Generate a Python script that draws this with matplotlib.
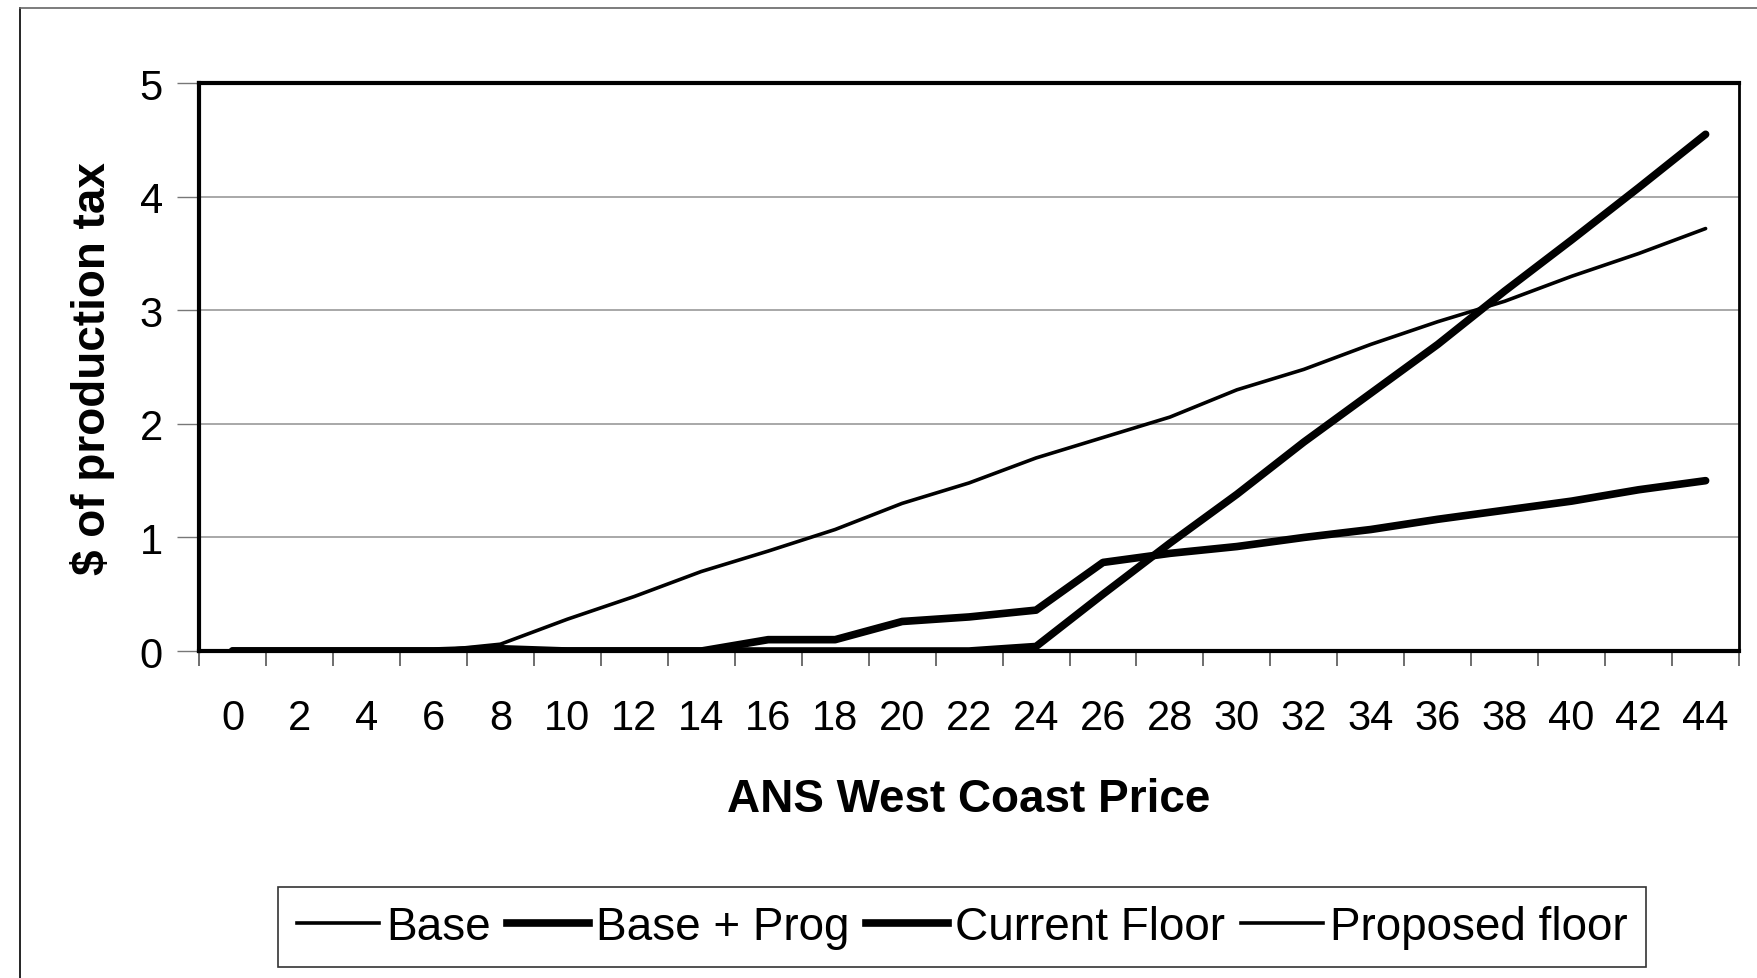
import numpy as np
import matplotlib.pyplot as plt
from matplotlib.lines import Line2D

plt.rcParams['font.family'] = ['Liberation Sans', 'DejaVu Sans']

prices = ['0', '2', '4', '6', '8', '10', '12', '14', '16', '18', '20', '22',
          '24', '26', '28', '30', '32', '34', '36', '38', '40', '42', '44']
base = [0, 0, 0, 0, 0.06, 0.28, 0.48, 0.7, 0.88, 1.07, 1.3, 1.48,
        1.7, 1.88, 2.06, 2.3, 2.48, 2.7, 2.9, 3.08, 3.3, 3.5, 3.72]
base_prog = [0, 0, 0, 0, 0, 0, 0, 0, 0, 0, 0, 0,
             0.04, 0.5, 0.95, 1.38, 1.84, 2.27, 2.7, 3.17, 3.62, 4.08, 4.55]
current_floor = [0, 0, 0, 0, 0.02, 0, 0, 0, 0.1, 0.1, 0.26, 0.3,
                 0.36, 0.78, 0.86, 0.92, 1.0, 1.07, 1.16, 1.24, 1.32, 1.42, 1.5]
proposed_floor = [0, 0, 0, 0, 0, 0, 0, 0, 0, 0, 0, 0,
                  0, 0, 0, 0, 0, 0, 0, 0, 0, 0, 0]

fig = plt.figure(figsize=(17.57, 9.79), dpi=100)
ax = fig.add_axes([0.1133, 0.334, 0.8765, 0.58])

x = np.arange(len(prices))
ax.plot(x, proposed_floor, color='black', lw=2.6, label='Proposed floor', solid_capstyle='round')
ax.plot(x, base, color='black', lw=2.6, label='Base', solid_capstyle='round')
ax.plot(x, current_floor, color='black', lw=5.5, label='Current Floor', solid_capstyle='round')
ax.plot(x, base_prog, color='black', lw=5.5, label='Base + Prog', solid_capstyle='round')

ax.set_xlim(-0.5, len(prices) - 0.5)
ax.set_ylim(0, 5)
ax.set_yticks([0, 1, 2, 3, 4, 5])
ax.set_yticklabels(['0', '1', '2', '3', '4', '5'], fontsize=30)
ax.set_xticks(x)
ax.set_xticklabels(prices, fontsize=30)
ax.set_xticks(np.arange(len(prices) + 1) - 0.5, minor=True)
ax.tick_params(axis='x', which='major', length=0, pad=34)
ax.tick_params(axis='x', which='minor', length=11, width=1.2, color='#555555', direction='out')
ax.tick_params(axis='y', length=16, width=1, color='#777777', pad=10)
ax.grid(axis='y', color='#999999', lw=1.2)
ax.set_axisbelow(True)

for s in ['left', 'top']:
    ax.spines[s].set_linewidth(3)
ax.spines['right'].set_linewidth(2)
ax.spines['bottom'].set_linewidth(3)

ax.set_xlabel('ANS West Coast Price', fontsize=33, fontweight='bold', labelpad=28)
ax.set_ylabel('$ of production tax', fontsize=33, fontweight='bold', labelpad=18)

handles = [Line2D([], [], color='black', lw=2.6),
           Line2D([], [], color='black', lw=5.5),
           Line2D([], [], color='black', lw=5.5),
           Line2D([], [], color='black', lw=2.6)]
labels = ['Base', 'Base + Prog', 'Current Floor', 'Proposed floor']
leg = fig.legend(handles, labels, loc='center', bbox_to_anchor=(0.5477, 0.052), ncol=4,
                 fontsize=33, frameon=True, fancybox=False, edgecolor='black',
                 handlelength=1.8, handletextpad=0.15, columnspacing=0.35,
                 borderpad=0.4)
leg.get_frame().set_linewidth(1.2)

# outer chart border
fig.add_artist(Line2D([20 / 1757, 20 / 1757], [0, 1 - 9 / 979], color='black', lw=1.2))
fig.add_artist(Line2D([20 / 1757, 1], [1 - 9 / 979, 1 - 9 / 979], color='#666666', lw=1.2))

fig.savefig('out.png', dpi=100)
